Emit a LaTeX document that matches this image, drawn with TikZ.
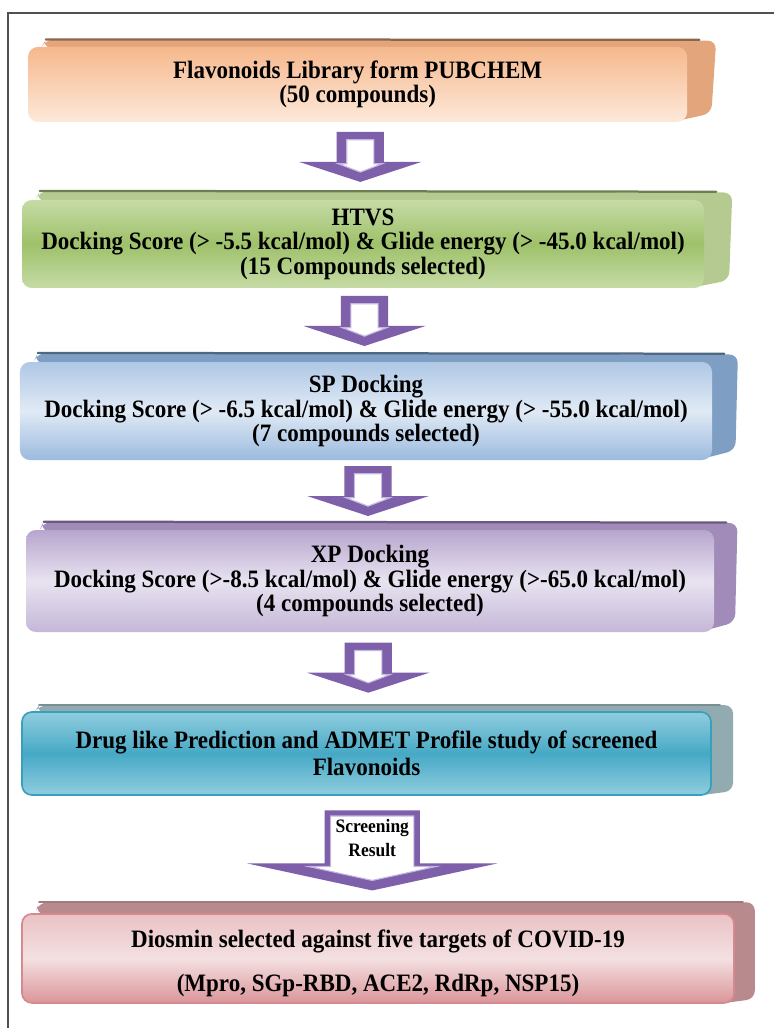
\documentclass[tikz,border=0pt]{standalone}
\usepackage{fontspec}
\setmainfont{Liberation Serif}[FakeStretch=0.92]
\definecolor{fcpurple}{RGB}{125,95,170}
\definecolor{fcpurplelight}{RGB}{196,182,222}
\definecolor{fcframe}{RGB}{80,80,80}
\definecolor{fcorange}{RGB}{246,184,140}
\definecolor{fcorange4}{RGB}{253,233,218}
\definecolor{fcorangeside}{RGB}{227,166,124}
\definecolor{fcorangeedge}{RGB}{140,102,74}
\definecolor{fcgreen}{RGB}{158,193,106}
\definecolor{fcgreen4}{RGB}{198,219,165}
\definecolor{fcgreenside}{RGB}{181,202,145}
\definecolor{fcgreenedge}{RGB}{108,126,82}
\definecolor{fcblue}{RGB}{155,186,222}
\definecolor{fcblue4}{RGB}{224,234,245}
\definecolor{fcblueside}{RGB}{127,158,196}
\definecolor{fcblueedge}{RGB}{78,103,131}
\definecolor{fcviolet}{RGB}{183,165,206}
\definecolor{fcviolet4}{RGB}{232,227,240}
\definecolor{fcvioletside}{RGB}{160,139,185}
\definecolor{fcvioletedge}{RGB}{106,90,126}
\definecolor{fcteal}{RGB}{70,169,198}
\definecolor{fcteal4}{RGB}{144,205,222}
\definecolor{fctealdraw}{RGB}{56,160,190}
\definecolor{fctealside}{RGB}{146,171,176}
\definecolor{fctealedge}{RGB}{122,143,147}
\definecolor{fcpink}{RGB}{218,149,153}
\definecolor{fcpink4}{RGB}{244,224,225}
\definecolor{fcpinkdraw}{RGB}{214,137,142}
\definecolor{fcpinkside}{RGB}{184,137,141}
\definecolor{fcpinkedge}{RGB}{160,122,126}
\usetikzlibrary{calc,backgrounds}

\begin{document}
\begin{tikzpicture}[
  flowbox/.style={rounded corners=7pt,align=center,inner sep=2pt,
    font=\fontsize{17.8}{17.5}\selectfont\bfseries},
  flowside/.style={rounded corners=6pt},
  flowedge/.style={line width=1.6pt,line cap=round},
  pics/flowarrow/.style={code={
    \fill[fcpurple] (-0.59,0.625) -- (0.59,0.625) -- (0.59,-0.125) -- (1.525,-0.125)
      -- (0,-0.625) -- (-1.525,-0.125) -- (-0.59,-0.125) -- cycle;
    \draw[fcpurplelight,fill=white,line width=0.8pt] (-0.34,0.43) -- (0.34,0.43) -- (0.34,-0.17)
      -- (0.55,-0.17) -- (0,-0.38) -- (-0.55,-0.17) -- (-0.34,-0.17) -- cycle;
  }}
]
  \useasboundingbox (0,0) rectangle (19.35,-25.7);
  \draw[fcframe,line width=1pt] (0.2,-25.7) |- (19.35,-0.325);

  % Library
  \node[flowbox,top color=fcorange,bottom color=fcorange4,
    minimum width=16.475cm,minimum height=1.875cm] (b1) at (8.94,-2.11)
    {Flavonoids Library form PUBCHEM\\(50 compounds)};

  % HTVS
  \node[flowbox,top color=fcgreen4,bottom color=fcgreen4,middle color=fcgreen,
    minimum width=17.05cm,minimum height=2.2cm] (b2) at (9.075,-6.1)
    {HTVS\\Docking Score (> -5.5 kcal/mol) \& Glide energy (> -45.0 kcal/mol)\\(15 Compounds selected)};

  % SP docking
  \node[flowbox,top color=fcblue!80,bottom color=fcblue,middle color=fcblue4,
    minimum width=17.3cm,minimum height=2.45cm] (b3) at (9.15,-10.275)
    {SP Docking\\Docking Score (> -6.5 kcal/mol) \& Glide energy (> -55.0 kcal/mol)\\(7 compounds selected)};

  % XP docking
  \node[flowbox,top color=fcviolet,bottom color=fcviolet!80,middle color=fcviolet4,
    minimum width=17.2cm,minimum height=2.55cm] (b4) at (9.25,-14.525)
    {XP Docking\\Docking Score (>-8.5 kcal/mol) \& Glide energy (>-65.0 kcal/mol)\\(4 compounds selected)};

  % ADMET
  \node[flowbox,top color=fcteal4,bottom color=fcteal4,middle color=fcteal,
    draw=fctealdraw,line width=1.2pt,
    minimum width=17.225cm,minimum height=2.075cm] (b5) at (9.1625,-18.8375)
    {Drug like Prediction and ADMET Profile study of screened\\[1.8pt]Flavonoids};

  % Result
  \node[flowbox,top color=fcpink4!60!fcpink,bottom color=fcpink,middle color=fcpink4,
    draw=fcpinkdraw,line width=1.2pt,
    minimum width=17.8cm,minimum height=2.225cm] (b6) at (9.45,-23.96)
    {\rule{0pt}{0.7cm}Diosmin selected against five targets of COVID-19\\[0.48cm](Mpro, SGp-RBD, ACE2, RdRp, NSP15)};

  % Side slabs
  \begin{pgfonlayer}{background}
    \fill[flowside,fcorangeside] ($(b1.north west)+(0.35,0)$) -- ($(b1.north west)+(0.45,0.18)$)
      -- ($(b1.north east)+(0.72,0.15)$) -- ($(b1.south east)+(0.6,0.22)$) -- ($(b1.south east)+(-0.4,0)$) -- cycle;
    \draw[flowedge,fcorangeedge] ($(b1.north west)+(0.45,0.18)$) -- ($(b1.north east)+(0.3,0.17)$);
    \fill[flowside,fcgreenside] ($(b2.north west)+(0.35,0)$) -- ($(b2.north west)+(0.45,0.22)$)
      -- ($(b2.north east)+(0.7,0.18)$) -- ($(b2.south east)+(0.62,0.2)$) -- ($(b2.south east)+(-0.4,0)$) -- cycle;
    \draw[flowedge,fcgreenedge] ($(b2.north west)+(0.45,0.22)$) -- ($(b2.north east)+(0.3,0.2)$);
    \fill[flowside,fcblueside] ($(b3.north west)+(0.35,0)$) -- ($(b3.north west)+(0.45,0.22)$)
      -- ($(b3.north east)+(0.64,0.18)$) -- ($(b3.south east)+(0.58,0.25)$) -- ($(b3.south east)+(-0.4,0)$) -- cycle;
    \draw[flowedge,fcblueedge] ($(b3.north west)+(0.45,0.22)$) -- ($(b3.north east)+(0.3,0.2)$);
    \fill[flowside,fcvioletside] ($(b4.north west)+(0.35,0)$) -- ($(b4.north west)+(0.45,0.2)$)
      -- ($(b4.north east)+(0.58,0.17)$) -- ($(b4.south east)+(0.52,0.25)$) -- ($(b4.south east)+(-0.4,0)$) -- cycle;
    \draw[flowedge,fcvioletedge] ($(b4.north west)+(0.45,0.2)$) -- ($(b4.north east)+(0.3,0.18)$);
    \fill[flowside,fctealside] ($(b5.north west)+(0.35,0)$) -- ($(b5.north west)+(0.45,0.15)$)
      -- ($(b5.north east)+(0.53,0.15)$) -- ($(b5.south east)+(0.53,0.12)$) -- ($(b5.south east)+(-0.4,0)$) -- cycle;
    \draw[flowedge,fctealedge] ($(b5.north west)+(0.45,0.15)$) -- ($(b5.north east)+(0.2,0.15)$);
    \fill[flowside,fcpinkside] ($(b6.north west)+(0.35,0)$) -- ($(b6.north west)+(0.45,0.27)$)
      -- ($(b6.north east)+(0.5,0.27)$) -- ($(b6.south east)+(0.5,0.12)$) -- ($(b6.south east)+(-0.4,0)$) -- cycle;
    \draw[flowedge,fcpinkedge] ($(b6.north west)+(0.45,0.27)$) -- ($(b6.north east)+(0.2,0.27)$);
  \end{pgfonlayer}

  % Arrows between boxes
  \coordinate (a1) at ($(b1.south)!0.5!(b2.north)+(0,0.1)$);
  \coordinate (a2) at ($(b2.south)!0.5!(b3.north)+(0,0.1)$);
  \coordinate (a3) at ($(b3.south)!0.5!(b4.north)+(0,0.1)$);
  \coordinate (a4) at ($(b4.south)!0.5!(b5.north)+(0,0.1)$);
  \coordinate (a5) at ($(b5.south)!0.5!(b6.north)+(0,0.1)$);
  \pic at (a1) {flowarrow};
  \pic at (a2) {flowarrow};
  \pic at (a3) {flowarrow};
  \pic at (a4) {flowarrow};

  % Screening arrow
  \begin{scope}[shift={(a5)}]
    \fill[fcpurple] (-1.19,1.0) -- (1.19,1.0) -- (1.19,-0.325) -- (3.125,-0.325)
      -- (0,-1.0) -- (-3.125,-0.325) -- (-1.19,-0.325) -- cycle;
    \draw[fcpurplelight,fill=white,line width=0.8pt] (-1.04,0.86) -- (1.04,0.86) -- (1.04,-0.4)
      -- (1.6,-0.4) -- (0,-0.75) -- (-1.6,-0.4) -- (-1.04,-0.4) -- cycle;
  \end{scope}
  \node[align=center,font=\fontsize{13.5}{17}\selectfont\bfseries] (res) at ($(a5)+(0,0.3)$)
    {Screening\\Result};
\end{tikzpicture}
\end{document}
